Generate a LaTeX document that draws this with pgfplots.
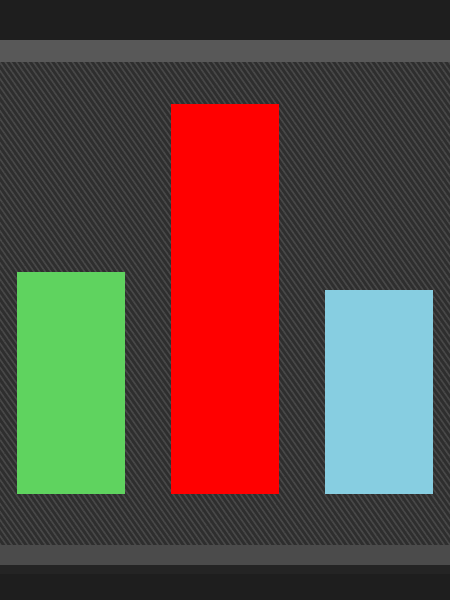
\documentclass[border=0pt]{standalone}
\usepackage{pgfplots}
\pgfplotsset{compat=1.18}
\usetikzlibrary{patterns.meta}

\definecolor{fabric}{RGB}{46,46,46}
\definecolor{twill}{RGB}{72,72,72}
\definecolor{knit}{RGB}{30,30,30}
\definecolor{seam}{RGB}{88,88,88}
\definecolor{bargreen}{RGB}{95,211,95}
\definecolor{barred}{RGB}{255,0,0}
\definecolor{barblue}{RGB}{135,206,225}

\begin{document}
\begin{tikzpicture}
\begin{axis}[
    scale only axis,
    width=225pt, height=300pt,
    xmin=0, xmax=450,
    ymin=-106, ymax=494,
    hide axis,
]
% backdrop: twill fabric with knit bands top and bottom
\fill[fabric] (axis cs:0,-106) rectangle (axis cs:450,494);
\fill[pattern={Lines[angle=-55, distance=2.3pt, line width=0.8pt]}, pattern color=twill]
    (axis cs:0,-106) rectangle (axis cs:450,494);
\fill[knit] (axis cs:0,454) rectangle (axis cs:450,494);
\fill[seam] (axis cs:0,432) rectangle (axis cs:450,454);
\fill[seam!85!black] (axis cs:0,-71) rectangle (axis cs:450,-51);
\fill[knit!90!seam] (axis cs:0,-80) rectangle (axis cs:450,-71);
\fill[knit] (axis cs:0,-106) rectangle (axis cs:450,-80);

\addplot[ybar, bar width=108, bar shift=0pt, fill=bargreen, draw=none]
    coordinates {(71,222)};
\addplot[ybar, bar width=108, bar shift=0pt, fill=barred, draw=none]
    coordinates {(224.5,390)};
\addplot[ybar, bar width=108, bar shift=0pt, fill=barblue, draw=none]
    coordinates {(379,204)};
\end{axis}
\end{tikzpicture}
\end{document}
